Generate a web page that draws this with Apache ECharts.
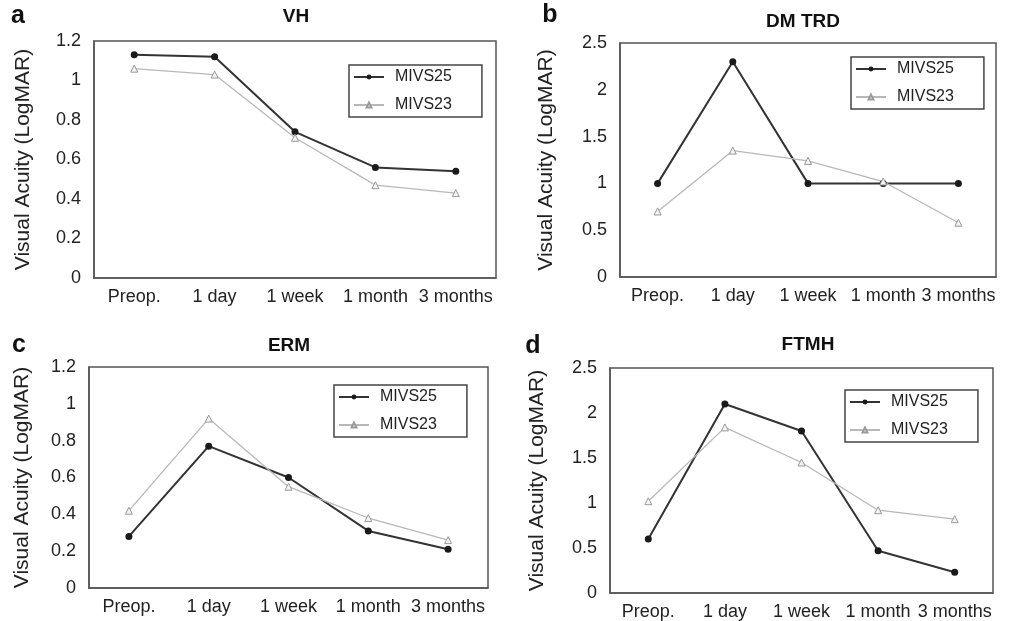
<!DOCTYPE html>
<html><head><meta charset="utf-8">
<script src="https://cdn.jsdelivr.net/npm/echarts@6/dist/echarts.min.js"></script>
<style>html,body{margin:0;padding:0;background:#fff}#c{width:1011px;height:621px}</style>
</head><body><div id="c"></div>
<script>
// ---- data ----
const categories = ['Preop.', '1 day', '1 week', '1 month', '3 months'];
const panelTitles = ['VH', 'DM TRD', 'ERM', 'FTMH'];
const panelLetters = ['a', 'b', 'c', 'd'];
const seriesNames = ['MIVS25', 'MIVS23'];
const vhMIVS25 = [1.13, 1.12, 0.74, 0.56, 0.54];
const vhMIVS23 = [1.06, 1.03, 0.71, 0.47, 0.43];
const dmtrdMIVS25 = [1.0, 2.3, 1.0, 1.0, 1.0];
const dmtrdMIVS23 = [0.7, 1.35, 1.24, 1.02, 0.58];
const ermMIVS25 = [0.28, 0.77, 0.6, 0.31, 0.21];
const ermMIVS23 = [0.42, 0.92, 0.55, 0.38, 0.26];
const ftmhMIVS25 = [0.6, 2.1, 1.8, 0.47, 0.23];
const ftmhMIVS23 = [1.02, 1.84, 1.45, 0.92, 0.82];
const yMaxes = [1.2, 2.5, 1.2, 2.5];
const ySteps = [0.2, 0.5, 0.2, 0.5];
const yAxisTitle = 'Visual Acuity (LogMAR)';

// ---- layout ----
const panelData = [[vhMIVS25, vhMIVS23], [dmtrdMIVS25, dmtrdMIVS23], [ermMIVS25, ermMIVS23], [ftmhMIVS25, ftmhMIVS23]];
const gridBoxes = [
  {left: 94, top: 41, width: 402, height: 237},
  {left: 620, top: 43, width: 376, height: 234},
  {left: 89, top: 367, width: 399, height: 221},
  {left: 610, top: 368, width: 383, height: 225}
];
const titleCenters = [[296, 17], [803, 22], [289, 346], [808, 345]];
const letterCenters = [[18, 16], [550, 15], [19, 345], [533, 346]];
const legendPos = [[349, 65], [851, 57], [334, 385], [845, 390]];
const nameGaps = [60, 63, 56, 62];

const FONT = '"Liberation Sans", Arial, Helvetica, sans-serif';
const AXC = '#555';
const TXT = '#222';

const option = {
  animation: false,
  backgroundColor: '#fff',
  grid: [], xAxis: [], yAxis: [], series: [], legend: [], graphic: []
};

for (let i = 0; i < 4; i++) {
  option.grid.push(Object.assign({show: true, borderColor: AXC, borderWidth: 1.5, backgroundColor: '#fff', containLabel: false}, gridBoxes[i]));
  option.xAxis.push({
    type: 'category', gridIndex: i, data: categories, boundaryGap: true,
    axisLine: {show: true, lineStyle: {color: AXC, width: 1.5}},
    axisTick: {show: false},
    axisLabel: {interval: 0, color: TXT, fontSize: 18, fontFamily: FONT, margin: 10}
  });
  option.yAxis.push({
    type: 'value', gridIndex: i, min: 0, max: yMaxes[i], interval: ySteps[i],
    name: yAxisTitle, nameLocation: 'middle', nameGap: nameGaps[i],
    nameTextStyle: {color: TXT, fontSize: 21, fontFamily: FONT},
    axisLine: {show: true, lineStyle: {color: AXC, width: 1.5}},
    axisTick: {show: false},
    splitLine: {show: false},
    axisLabel: {color: TXT, fontSize: 18, fontFamily: FONT, margin: 13}
  });
  option.series.push({
    name: seriesNames[0], type: 'line', xAxisIndex: i, yAxisIndex: i, data: panelData[i][0],
    symbol: 'circle', symbolSize: 7,
    itemStyle: {color: '#1a1a1a'},
    lineStyle: {color: '#333', width: 2}
  });
  option.series.push({
    name: seriesNames[1], type: 'line', xAxisIndex: i, yAxisIndex: i, data: panelData[i][1],
    symbol: 'triangle', symbolSize: 7,
    itemStyle: {color: '#f4f4f4', borderColor: '#999', borderWidth: 1},
    lineStyle: {color: '#b8b8b8', width: 1.3}
  });
  option.legend.push({
    data: seriesNames, orient: 'vertical', left: legendPos[i][0], top: legendPos[i][1],
    padding: [4, 30, 4, 4], itemGap: 12, itemWidth: 30, itemHeight: 6,
    borderColor: '#444', borderWidth: 1.5, backgroundColor: '#fff',
    selectedMode: false,
    textStyle: {color: TXT, fontSize: 16, fontFamily: FONT, padding: [0, 0, 0, 6]}
  });
  option.graphic.push({
    type: 'text', x: titleCenters[i][0], y: titleCenters[i][1],
    style: {text: panelTitles[i], font: 'bold 19px ' + FONT, fill: '#111', align: 'center', verticalAlign: 'middle'}
  });
  option.graphic.push({
    type: 'text', x: letterCenters[i][0], y: letterCenters[i][1],
    style: {text: panelLetters[i], font: 'bold 25px ' + FONT, fill: '#111', align: 'center', verticalAlign: 'middle'}
  });
}

const chart = echarts.init(document.getElementById('c'), null, {renderer: 'canvas'});
chart.setOption(option);
</script>
</body></html>
